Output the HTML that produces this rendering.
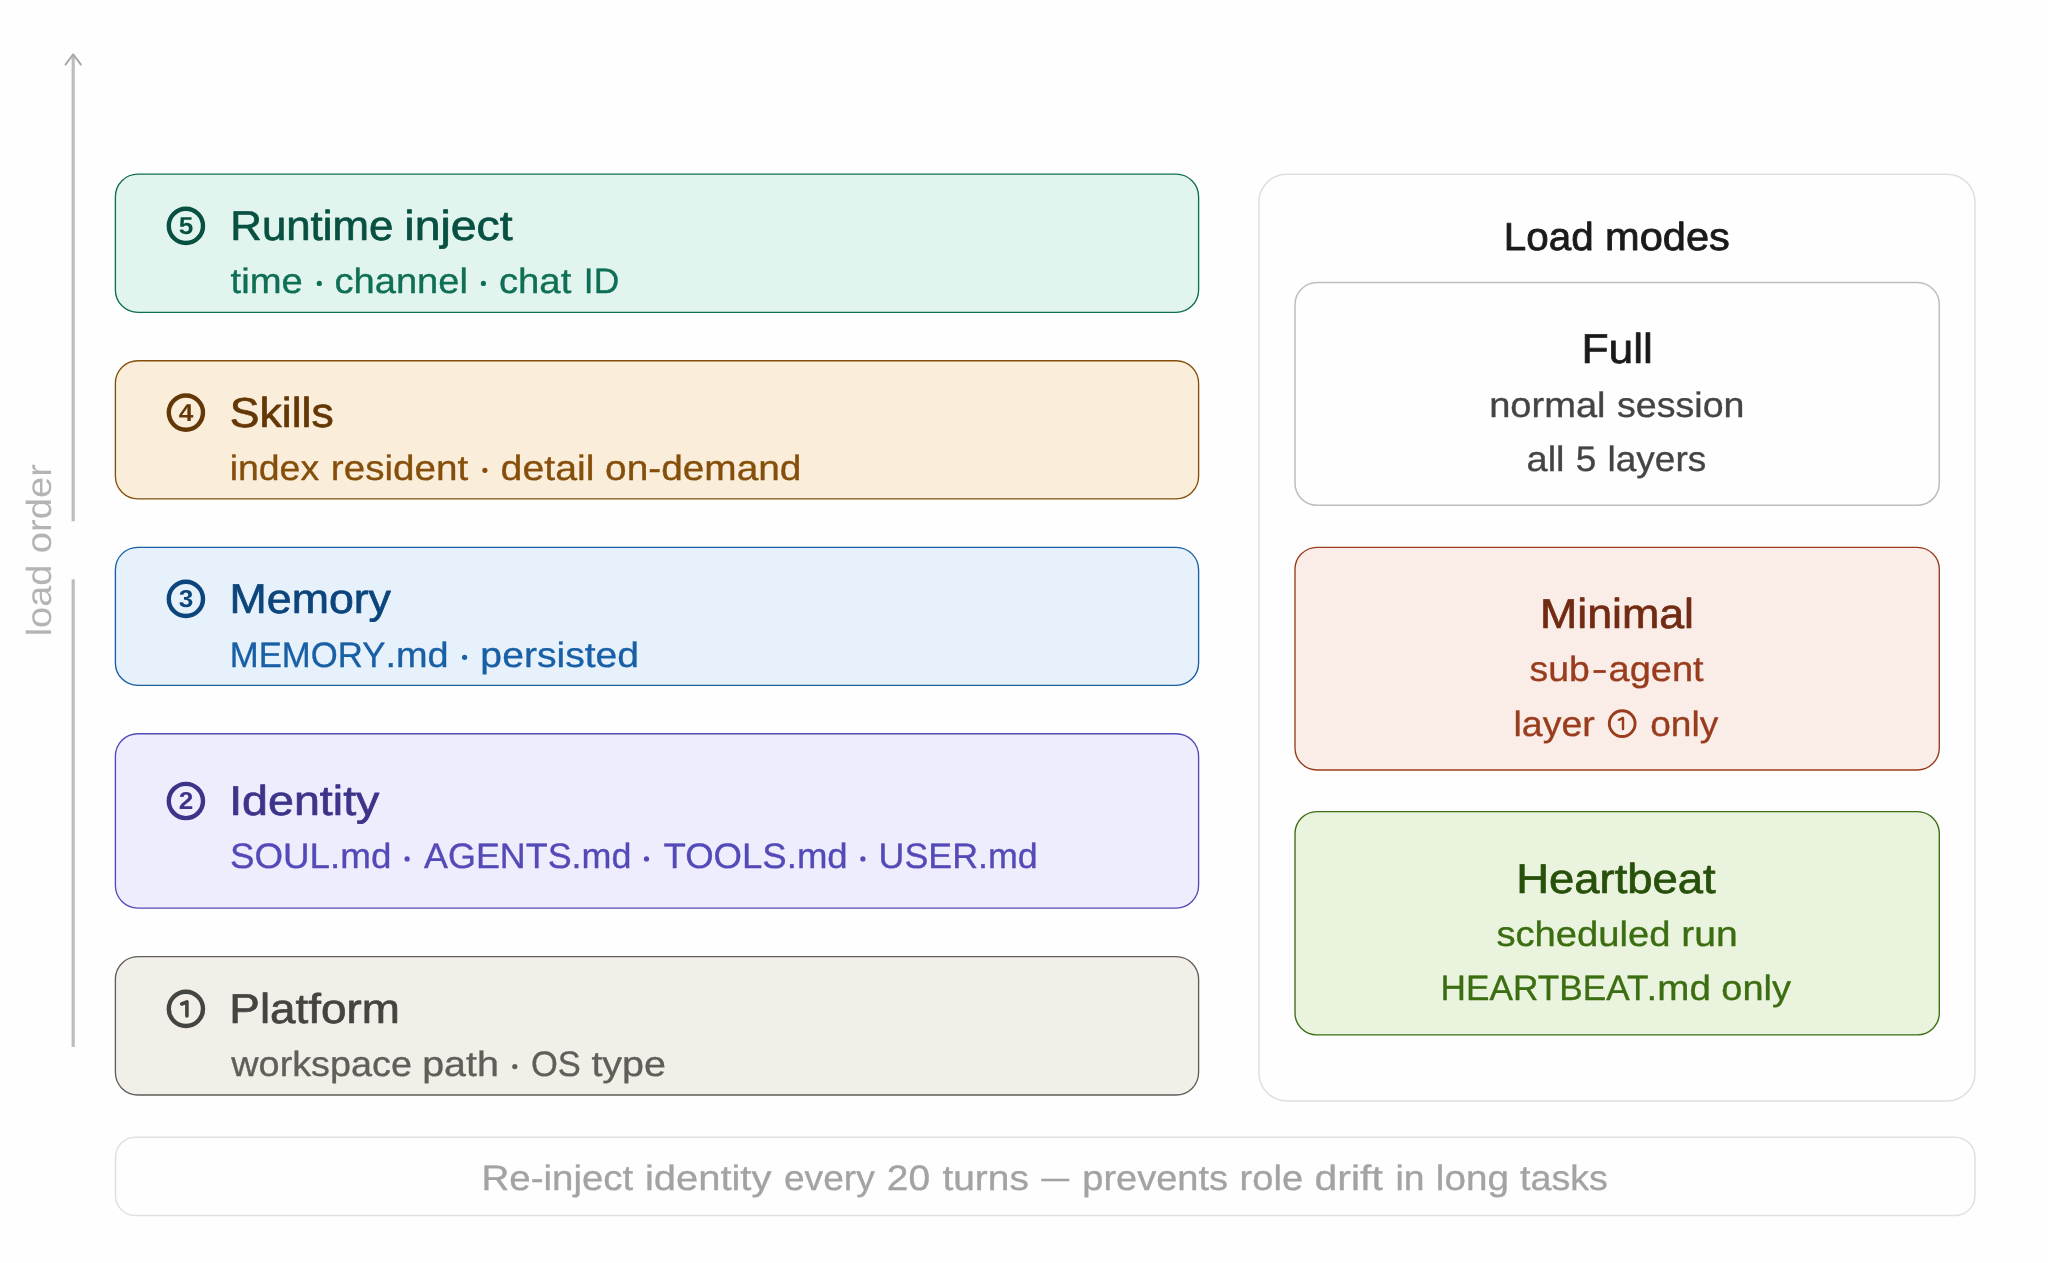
<!DOCTYPE html>
<html><head><meta charset="utf-8"><title>Load order</title>
<style>html,body{margin:0;padding:0;background:#fefefe;}body{width:2048px;height:1263px;overflow:hidden;}svg{display:block;font-family:"Liberation Sans", sans-serif;will-change:transform;text-rendering:geometricPrecision;}</style>
</head><body>
<svg width="2048" height="1263" viewBox="0 0 2048 1263">
<g stroke="#bdbdbd" stroke-width="3.2" fill="none">
<line x1="73.2" y1="55" x2="73.2" y2="521.2"/>
<line x1="73.2" y1="579.3" x2="73.2" y2="1047"/>
</g>
<path d="M65.5 64.6 L73.2 54.3 L80.9 64.6" fill="none" stroke="#a6a6a6" stroke-width="1.9" stroke-linecap="round" stroke-linejoin="round"/>
<rect x="115.4" y="174.1" width="1083.2" height="138.3" rx="22.5" ry="22.5" fill="#e1f5ee" stroke="#0f6e56" stroke-width="1.35"/>
<circle cx="185.9" cy="225.9" r="17.1" fill="none" stroke="#085041" stroke-width="4.4"/>
<text transform="translate(186.1 234.35) scale(1.07 1)" font-size="24.5" font-weight="bold" fill="#085041" text-anchor="middle">5</text>
<rect x="115.4" y="360.7" width="1083.2" height="138.1" rx="22.5" ry="22.5" fill="#faeeda" stroke="#854f0b" stroke-width="1.35"/>
<circle cx="185.9" cy="412.6" r="17.1" fill="none" stroke="#633806" stroke-width="4.4"/>
<text transform="translate(186.1 421.05) scale(1.07 1)" font-size="24.5" font-weight="bold" fill="#633806" text-anchor="middle">4</text>
<rect x="115.4" y="547.3" width="1083.2" height="138.1" rx="22.5" ry="22.5" fill="#e6f1fb" stroke="#185fa5" stroke-width="1.35"/>
<circle cx="185.9" cy="598.9" r="17.1" fill="none" stroke="#0c447c" stroke-width="4.4"/>
<text transform="translate(186.1 607.35) scale(1.07 1)" font-size="24.5" font-weight="bold" fill="#0c447c" text-anchor="middle">3</text>
<rect x="115.4" y="733.7" width="1083.2" height="174.4" rx="22.5" ry="22.5" fill="#eeedfe" stroke="#534ab7" stroke-width="1.35"/>
<circle cx="185.9" cy="801.0" r="17.1" fill="none" stroke="#3c3489" stroke-width="4.4"/>
<text transform="translate(186.1 809.45) scale(1.07 1)" font-size="24.5" font-weight="bold" fill="#3c3489" text-anchor="middle">2</text>
<rect x="115.4" y="956.6" width="1083.2" height="138.4" rx="22.5" ry="22.5" fill="#f1efe8" stroke="#5f5e5a" stroke-width="1.35"/>
<circle cx="185.9" cy="1008.9" r="17.1" fill="none" stroke="#444441" stroke-width="4.4"/>
<path transform="translate(185.9 1008.9)" d="M-4.2 -4.9 L1 -7.1 L1 7" fill="none" stroke="#444441" stroke-width="3.6" stroke-linecap="round" stroke-linejoin="round"/>
<rect x="1258.9" y="174.2" width="716.1" height="926.7" rx="28" ry="28" fill="#fefefe" stroke="#dfdfdf" stroke-width="1.5"/>
<rect x="1295" y="282.5" width="644.3" height="222.8" rx="22" ry="22" fill="#fefefe" stroke="#bebebe" stroke-width="1.5"/>
<rect x="1295" y="547.3" width="644.3" height="222.7" rx="22" ry="22" fill="#faece7" stroke="#993c1d" stroke-width="1.35"/>
<circle cx="1622.2" cy="723.6" r="12.9" fill="none" stroke="#993c1d" stroke-width="2.9"/>
<path transform="translate(1622.2 723.6)" d="M-3.3 -3.8 L0.8 -5.7 L0.8 5.4" fill="none" stroke="#993c1d" stroke-width="2.4" stroke-linecap="round" stroke-linejoin="round"/>
<rect x="1295" y="811.6" width="644.3" height="223.3" rx="22" ry="22" fill="#eaf3de" stroke="#3b6d11" stroke-width="1.35"/>
<rect x="115.5" y="1137.2" width="1859.5" height="78.4" rx="20" ry="20" fill="#fefefe" stroke="#e0e0e0" stroke-width="1.5"/>
<circle cx="319.3" cy="283.39" r="2.6" fill="#0f6e56"/>
<circle cx="483.4" cy="283.39" r="2.6" fill="#0f6e56"/>
<circle cx="484.9" cy="470.29" r="2.6" fill="#854f0b"/>
<circle cx="464.6" cy="657.29" r="2.6" fill="#185fa5"/>
<circle cx="407.1" cy="858.89" r="2.6" fill="#534ab7"/>
<circle cx="646.5" cy="858.89" r="2.6" fill="#534ab7"/>
<circle cx="862.9" cy="858.89" r="2.6" fill="#534ab7"/>
<circle cx="514.8" cy="1066.59" r="2.6" fill="#5f5e5a"/>
<line x1="1041.2" y1="1180" x2="1069.3" y2="1180" stroke="#a3a3a3" stroke-width="2.6"/>
<line x1="1593.5" y1="671.5" x2="1605.8" y2="671.5" stroke="#993c1d" stroke-width="2.8"/>
<text x="230.33" y="240.25" font-size="41.8" fill="#085041" textLength="162.88" lengthAdjust="spacingAndGlyphs" stroke="#085041" stroke-width="0.7" stroke-linejoin="round">Runtime</text>
<text x="404.38" y="240.25" font-size="41.8" fill="#085041" textLength="108.22" lengthAdjust="spacingAndGlyphs" stroke="#085041" stroke-width="0.7" stroke-linejoin="round">inject</text>
<text x="230.6" y="292.93" font-size="35.3" fill="#0f6e56" textLength="72.22" lengthAdjust="spacingAndGlyphs" stroke="#0f6e56" stroke-width="0.35" stroke-linejoin="round">time</text>
<text x="334.57" y="292.93" font-size="35.3" fill="#0f6e56" textLength="133.29" lengthAdjust="spacingAndGlyphs" stroke="#0f6e56" stroke-width="0.35" stroke-linejoin="round">channel</text>
<text x="498.95" y="292.93" font-size="35.3" fill="#0f6e56" textLength="72.37" lengthAdjust="spacingAndGlyphs" stroke="#0f6e56" stroke-width="0.35" stroke-linejoin="round">chat</text>
<text x="583.87" y="292.93" font-size="35.3" fill="#0f6e56" textLength="35.38" lengthAdjust="spacingAndGlyphs" stroke="#0f6e56" stroke-width="0.35" stroke-linejoin="round">ID</text>
<text x="229.88" y="427.15" font-size="41.8" fill="#633806" textLength="103.88" lengthAdjust="spacingAndGlyphs" stroke="#633806" stroke-width="0.7" stroke-linejoin="round">Skills</text>
<text x="229.73" y="479.82" font-size="35.3" fill="#854f0b" textLength="89.4" lengthAdjust="spacingAndGlyphs" stroke="#854f0b" stroke-width="0.35" stroke-linejoin="round">index</text>
<text x="330.8" y="479.82" font-size="35.3" fill="#854f0b" textLength="137.52" lengthAdjust="spacingAndGlyphs" stroke="#854f0b" stroke-width="0.35" stroke-linejoin="round">resident</text>
<text x="500.55" y="479.82" font-size="35.3" fill="#854f0b" textLength="93.9" lengthAdjust="spacingAndGlyphs" stroke="#854f0b" stroke-width="0.35" stroke-linejoin="round">detail</text>
<text x="605.11" y="479.82" font-size="35.3" fill="#854f0b" textLength="196.35" lengthAdjust="spacingAndGlyphs" stroke="#854f0b" stroke-width="0.35" stroke-linejoin="round">on-demand</text>
<text x="229.61" y="613.25" font-size="41.8" fill="#0c447c" textLength="161.35" lengthAdjust="spacingAndGlyphs" stroke="#0c447c" stroke-width="0.7" stroke-linejoin="round">Memory</text>
<text x="229.82" y="666.83" font-size="35.3" fill="#185fa5" textLength="155.53" lengthAdjust="spacingAndGlyphs" stroke="#185fa5" stroke-width="0.35" stroke-linejoin="round">MEMORY</text>
<text x="385.46" y="666.83" font-size="35.3" fill="#185fa5" textLength="63.15" lengthAdjust="spacingAndGlyphs" stroke="#185fa5" stroke-width="0.35" stroke-linejoin="round">.md</text>
<text x="480.38" y="666.83" font-size="35.3" fill="#185fa5" textLength="158.73" lengthAdjust="spacingAndGlyphs" stroke="#185fa5" stroke-width="0.35" stroke-linejoin="round">persisted</text>
<text x="229.18" y="815.15" font-size="41.8" fill="#3c3489" textLength="150.24" lengthAdjust="spacingAndGlyphs" stroke="#3c3489" stroke-width="0.7" stroke-linejoin="round">Identity</text>
<text x="229.91" y="868.43" font-size="35.3" fill="#534ab7" textLength="161.45" lengthAdjust="spacingAndGlyphs" stroke="#534ab7" stroke-width="0.35" stroke-linejoin="round">SOUL.md</text>
<text x="424.03" y="868.43" font-size="35.3" fill="#534ab7" textLength="207.44" lengthAdjust="spacingAndGlyphs" stroke="#534ab7" stroke-width="0.35" stroke-linejoin="round">AGENTS.md</text>
<text x="663.47" y="868.43" font-size="35.3" fill="#534ab7" textLength="184.22" lengthAdjust="spacingAndGlyphs" stroke="#534ab7" stroke-width="0.35" stroke-linejoin="round">TOOLS.md</text>
<text x="878.54" y="868.43" font-size="35.3" fill="#534ab7" textLength="159.12" lengthAdjust="spacingAndGlyphs" stroke="#534ab7" stroke-width="0.35" stroke-linejoin="round">USER.md</text>
<text x="229.36" y="1023.05" font-size="41.8" fill="#444441" textLength="170.44" lengthAdjust="spacingAndGlyphs" stroke="#444441" stroke-width="0.7" stroke-linejoin="round">Platform</text>
<text x="231.32" y="1076.12" font-size="35.3" fill="#5f5e5a" textLength="180.68" lengthAdjust="spacingAndGlyphs" stroke="#5f5e5a" stroke-width="0.35" stroke-linejoin="round">workspace</text>
<text x="422.22" y="1076.12" font-size="35.3" fill="#5f5e5a" textLength="76.66" lengthAdjust="spacingAndGlyphs" stroke="#5f5e5a" stroke-width="0.35" stroke-linejoin="round">path</text>
<text x="530.92" y="1076.12" font-size="35.3" fill="#5f5e5a" textLength="49.85" lengthAdjust="spacingAndGlyphs" stroke="#5f5e5a" stroke-width="0.35" stroke-linejoin="round">OS</text>
<text x="591.4" y="1076.12" font-size="35.3" fill="#5f5e5a" textLength="74.66" lengthAdjust="spacingAndGlyphs" stroke="#5f5e5a" stroke-width="0.35" stroke-linejoin="round">type</text>
<text x="1503.76" y="249.6" font-size="39" fill="#1a1a1a" textLength="89.84" lengthAdjust="spacingAndGlyphs" stroke="#1a1a1a" stroke-width="0.8" stroke-linejoin="round">Load</text>
<text x="1605.05" y="249.6" font-size="39" fill="#1a1a1a" textLength="124.8" lengthAdjust="spacingAndGlyphs" stroke="#1a1a1a" stroke-width="0.8" stroke-linejoin="round">modes</text>
<text x="1581.43" y="363.15" font-size="41.8" fill="#1a1a1a" textLength="71.56" lengthAdjust="spacingAndGlyphs" stroke="#1a1a1a" stroke-width="0.7" stroke-linejoin="round">Full</text>
<text x="1489.18" y="416.52" font-size="35.3" fill="#444444" textLength="116.33" lengthAdjust="spacingAndGlyphs" stroke="#444444" stroke-width="0.35" stroke-linejoin="round">normal</text>
<text x="1617.08" y="416.52" font-size="35.3" fill="#444444" textLength="127.35" lengthAdjust="spacingAndGlyphs" stroke="#444444" stroke-width="0.35" stroke-linejoin="round">session</text>
<text x="1526.5" y="471.02" font-size="35.3" fill="#444444" textLength="38.03" lengthAdjust="spacingAndGlyphs" stroke="#444444" stroke-width="0.35" stroke-linejoin="round">all</text>
<text x="1575.74" y="471.02" font-size="35.3" fill="#444444" textLength="20.54" lengthAdjust="spacingAndGlyphs" stroke="#444444" stroke-width="0.35" stroke-linejoin="round">5</text>
<text x="1607.52" y="471.02" font-size="35.3" fill="#444444" textLength="98.71" lengthAdjust="spacingAndGlyphs" stroke="#444444" stroke-width="0.35" stroke-linejoin="round">layers</text>
<text x="1539.93" y="628.15" font-size="41.8" fill="#712b13" textLength="154.13" lengthAdjust="spacingAndGlyphs" stroke="#712b13" stroke-width="0.7" stroke-linejoin="round">Minimal</text>
<text x="1529.56" y="681.33" font-size="35.3" fill="#993c1d" textLength="60.3" lengthAdjust="spacingAndGlyphs" stroke="#993c1d" stroke-width="0.35" stroke-linejoin="round">sub</text>
<text x="1608.58" y="681.33" font-size="35.3" fill="#993c1d" textLength="95.05" lengthAdjust="spacingAndGlyphs" stroke="#993c1d" stroke-width="0.35" stroke-linejoin="round">agent</text>
<text x="1513.46" y="735.93" font-size="35.3" fill="#993c1d" textLength="81.4" lengthAdjust="spacingAndGlyphs" stroke="#993c1d" stroke-width="0.35" stroke-linejoin="round">layer</text>
<text x="1650.23" y="735.93" font-size="35.3" fill="#993c1d" textLength="68.05" lengthAdjust="spacingAndGlyphs" stroke="#993c1d" stroke-width="0.35" stroke-linejoin="round">only</text>
<text x="1516.34" y="893.15" font-size="41.8" fill="#27500a" textLength="199.26" lengthAdjust="spacingAndGlyphs" stroke="#27500a" stroke-width="0.7" stroke-linejoin="round">Heartbeat</text>
<text x="1496.42" y="946.33" font-size="35.3" fill="#3b6d11" textLength="174.08" lengthAdjust="spacingAndGlyphs" stroke="#3b6d11" stroke-width="0.35" stroke-linejoin="round">scheduled</text>
<text x="1681.35" y="946.33" font-size="35.3" fill="#3b6d11" textLength="56.41" lengthAdjust="spacingAndGlyphs" stroke="#3b6d11" stroke-width="0.35" stroke-linejoin="round">run</text>
<text x="1440.61" y="1000.43" font-size="35.3" fill="#3b6d11" textLength="207.93" lengthAdjust="spacingAndGlyphs" stroke="#3b6d11" stroke-width="0.35" stroke-linejoin="round">HEARTBEAT</text>
<text x="1646.58" y="1000.43" font-size="35.3" fill="#3b6d11" textLength="64.26" lengthAdjust="spacingAndGlyphs" stroke="#3b6d11" stroke-width="0.35" stroke-linejoin="round">.md</text>
<text x="1721.29" y="1000.43" font-size="35.3" fill="#3b6d11" textLength="69.64" lengthAdjust="spacingAndGlyphs" stroke="#3b6d11" stroke-width="0.35" stroke-linejoin="round">only</text>
<text x="481.44" y="1190.23" font-size="35.3" fill="#a3a3a3" textLength="151.85" lengthAdjust="spacingAndGlyphs" stroke="#a3a3a3" stroke-width="0.35" stroke-linejoin="round">Re-inject</text>
<text x="644.98" y="1190.23" font-size="35.3" fill="#a3a3a3" textLength="126.45" lengthAdjust="spacingAndGlyphs" stroke="#a3a3a3" stroke-width="0.35" stroke-linejoin="round">identity</text>
<text x="783.99" y="1190.23" font-size="35.3" fill="#a3a3a3" textLength="90.72" lengthAdjust="spacingAndGlyphs" stroke="#a3a3a3" stroke-width="0.35" stroke-linejoin="round">every</text>
<text x="886.78" y="1190.23" font-size="35.3" fill="#a3a3a3" textLength="43.29" lengthAdjust="spacingAndGlyphs" stroke="#a3a3a3" stroke-width="0.35" stroke-linejoin="round">20</text>
<text x="942.44" y="1190.23" font-size="35.3" fill="#a3a3a3" textLength="86.39" lengthAdjust="spacingAndGlyphs" stroke="#a3a3a3" stroke-width="0.35" stroke-linejoin="round">turns</text>
<text x="1082.36" y="1190.23" font-size="35.3" fill="#a3a3a3" textLength="145.66" lengthAdjust="spacingAndGlyphs" stroke="#a3a3a3" stroke-width="0.35" stroke-linejoin="round">prevents</text>
<text x="1239.6" y="1190.23" font-size="35.3" fill="#a3a3a3" textLength="63.46" lengthAdjust="spacingAndGlyphs" stroke="#a3a3a3" stroke-width="0.35" stroke-linejoin="round">role</text>
<text x="1314.58" y="1190.23" font-size="35.3" fill="#a3a3a3" textLength="68.19" lengthAdjust="spacingAndGlyphs" stroke="#a3a3a3" stroke-width="0.35" stroke-linejoin="round">drift</text>
<text x="1395.5" y="1190.23" font-size="35.3" fill="#a3a3a3" textLength="29.01" lengthAdjust="spacingAndGlyphs" stroke="#a3a3a3" stroke-width="0.35" stroke-linejoin="round">in</text>
<text x="1435.88" y="1190.23" font-size="35.3" fill="#a3a3a3" textLength="72.99" lengthAdjust="spacingAndGlyphs" stroke="#a3a3a3" stroke-width="0.35" stroke-linejoin="round">long</text>
<text x="1520.0" y="1190.23" font-size="35.3" fill="#a3a3a3" textLength="87.85" lengthAdjust="spacingAndGlyphs" stroke="#a3a3a3" stroke-width="0.35" stroke-linejoin="round">tasks</text>
<text transform="translate(51.4 634.2) rotate(-90)" x="-2.13" y="0.0" font-size="35" fill="#b4b4b4" textLength="71.61" lengthAdjust="spacingAndGlyphs">load</text>
<text transform="translate(51.4 634.2) rotate(-90)" x="81.02" y="0.0" font-size="35" fill="#b4b4b4" textLength="89.15" lengthAdjust="spacingAndGlyphs">order</text>
</svg></body></html>
